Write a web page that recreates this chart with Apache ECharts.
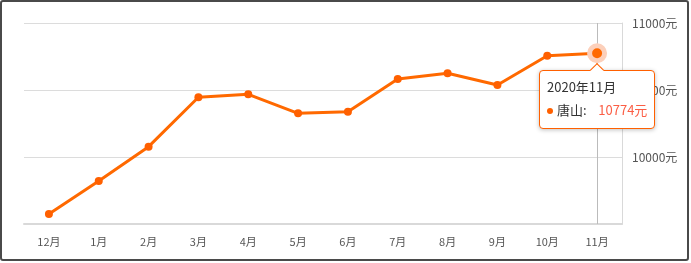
<!DOCTYPE html>
<html>
<head>
<meta charset="utf-8">
<script src="https://cdn.jsdelivr.net/npm/echarts@6/dist/echarts.min.js"></script>
<style>
  html, body { margin: 0; padding: 0; background: #fff; }
  #wrap { position: relative; width: 691px; height: 263px; }
  #chart { position: absolute; left: 0; top: 0; width: 691px; height: 263px; }
  #frame {
    position: absolute; left: 0; top: 0; width: 689px; height: 261px;
    box-sizing: border-box; border: 2px solid #4a4a4a; border-radius: 3px;
    pointer-events: none;
  }
</style>
</head>
<body>
<div id="wrap">
  <div id="chart"></div>
  <div id="frame"></div>
</div>
<script>
// Monthly average price, 唐山 (元/㎡)
const months = ['12月', '1月', '2月', '3月', '4月', '5月', '6月', '7月', '8月', '9月', '10月', '11月'];
const monthTitles = ['2019年12月', '2020年1月', '2020年2月', '2020年3月', '2020年4月', '2020年5月',
  '2020年6月', '2020年7月', '2020年8月', '2020年9月', '2020年10月', '2020年11月'];
const cityName = '唐山';
const prices = [9575, 9821, 10077, 10446, 10468, 10326, 10338, 10582, 10625, 10537, 10756, 10774];
const yTicks = [9500, 10000, 10500, 11000];

const ORANGE = '#ff6000';
const chart = echarts.init(document.getElementById('chart'), null, { renderer: 'canvas' });

const lastIdx = prices.length - 1;
const seriesData = prices.map((v, i) => i === lastIdx ? {
  value: v,
  symbolSize: 15,
  itemStyle: { color: ORANGE, borderColor: '#fcd0bb', borderWidth: 5 }
} : v);

chart.setOption({
  animation: false,
  textStyle: { fontFamily: '"Noto Sans CJK SC", "Noto Sans", sans-serif' },
  grid: { left: 24, right: 69, top: 23, bottom: 39 },
  axisPointer: { z: 1 },
  tooltip: {
    trigger: 'axis',
    triggerOn: 'none',
    alwaysShowContent: true,
    backgroundColor: '#fff',
    borderColor: ORANGE,
    borderWidth: 1,
    padding: [5, 7, 6, 7],
    extraCssText: 'border-radius:4px;box-shadow:0 1px 4px rgba(0,0,0,0.25);overflow:visible;',
    axisPointer: { type: 'line', z: 1, lineStyle: { color: '#bbb', width: 1, type: 'solid' } },
    position: function () { return [539, 70]; },
    formatter: function (params) {
      const p = params[0];
      const arrow = '<div style="position:absolute;left:52px;top:-6px;width:9px;height:9px;' +
        'background:#fff;border-left:1px solid ' + ORANGE + ';border-top:1px solid ' + ORANGE + ';' +
        'transform:rotate(45deg);"></div>';
      return arrow +
        '<div style="font-size:13px;color:#333;line-height:22px;">' + monthTitles[p.dataIndex] + '</div>' +
        '<div style="font-size:13px;color:#333;line-height:24px;">' +
        '<span style="display:inline-block;width:6px;height:6px;border-radius:3px;background:' + ORANGE +
        ';vertical-align:middle;margin-right:4px;"></span>' + cityName + ':&nbsp;&nbsp;&nbsp;&nbsp;' +
        '<span style="color:#fb5e45;">' + p.value + '元</span></div>';
    }
  },
  xAxis: {
    type: 'category',
    data: months,
    boundaryGap: true,
    axisLine: { lineStyle: { color: '#d9d9d9', width: 2 } },
    axisTick: { alignWithLabel: true, length: 5, lineStyle: { color: '#d9d9d9' } },
    axisLabel: { color: '#555', fontSize: 11, margin: 12 }
  },
  yAxis: {
    type: 'value',
    position: 'right',
    min: yTicks[0],
    max: yTicks[yTicks.length - 1],
    interval: yTicks[1] - yTicks[0],
    axisLine: { show: true, lineStyle: { color: '#d9d9d9', width: 1 } },
    axisTick: { show: false },
    splitLine: { lineStyle: { color: '#dcdcdc', width: 1 } },
    axisLabel: {
      color: '#555', fontSize: 12, margin: 10,
      showMinLabel: false,
      formatter: v => v + '元'
    }
  },
  series: [{
    name: cityName,
    type: 'line',
    z: 5,
    data: seriesData,
    symbol: 'circle',
    symbolSize: 8,
    lineStyle: { color: ORANGE, width: 3 },
    itemStyle: { color: ORANGE },
    emphasis: { scale: false }
  }]
});

chart.dispatchAction({ type: 'showTip', seriesIndex: 0, dataIndex: lastIdx });
</script>
</body>
</html>
